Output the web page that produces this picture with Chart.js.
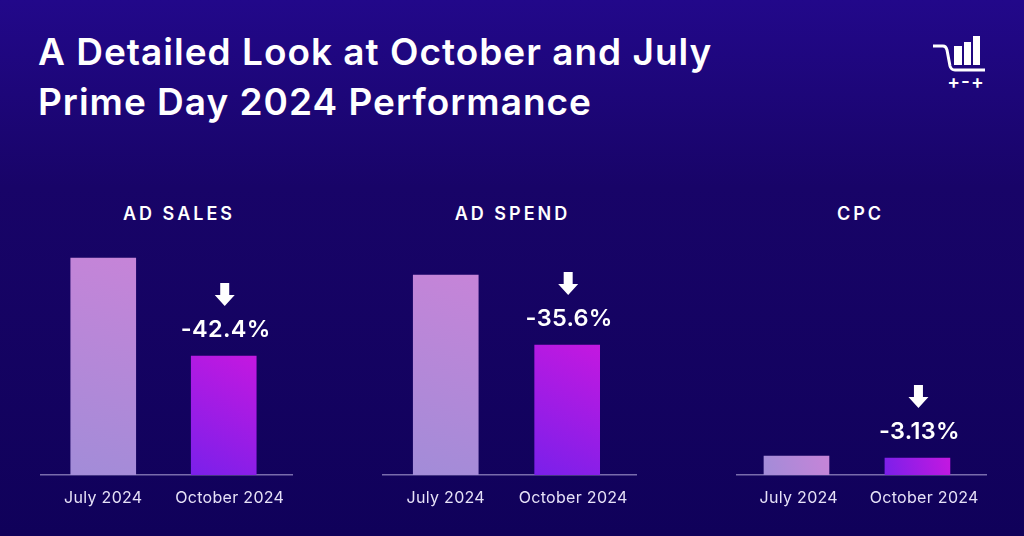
<!DOCTYPE html>
<html>
<head>
<meta charset="utf-8">
<title>Prime Day 2024</title>
<script src="https://cdn.jsdelivr.net/npm/chart.js@4"></script>
<style>
  html, body { margin: 0; padding: 0; }
  body {
    position: relative; width: 1024px; height: 536px; overflow: hidden;
    background: linear-gradient(180deg, #22088a 0%, #180468 35%, #10015a 100%);
    font-family: Inter, sans-serif; color: #fff;
  }
  h1 {
    position: absolute; left: 38px; top: 27px; margin: 0;
    font-size: 37px; line-height: 50px; font-weight: 600; letter-spacing: 1px;
  }
  .panel-title {
    position: absolute; top: 203px; width: 253px; text-align: center;
    font-size: 18px; line-height: 22px; font-weight: 600; letter-spacing: 3px;
  }
  canvas { position: absolute; top: 235px; }
  svg { position: absolute; left: 932px; top: 34px; }
</style>
</head>
<body>
<h1>A Detailed Look at October and July<br>Prime Day 2024 Performance</h1>

<svg width="56" height="56" viewBox="0 0 56 56" fill="none">
  <path d="M1 12 H11 Q14 12 15 16 L18 32 Q19 36 23 36 H53" stroke="#fff" stroke-width="3"/>
  <path d="M22 12 h8 v19 h-8z M32 8 h7 v23 h-7z M41 2 h7 v29 h-7z" fill="#fff"/>
  <text x="34" y="54" text-anchor="middle" fill="#fff" font-family="Inter" font-size="19" font-weight="600" letter-spacing="1">+-+</text>
</svg>

<script>
// Month categories shared by all three panels
const months = ["July 2024", "October 2024"];

// Bar heights (relative units, no axis in the original)
const adSales = [217, 119];
const adSpend = [200, 130];
const cpc = [19, 17];

const adSalesChange = "-42.4%";
const adSpendChange = "-35.6%";
const cpcChange = "-3.13%";

const panels = [
  { title: "AD SALES", values: adSales, change: adSalesChange, left: 40, width: 253, titleCenter: 177.5, xMin: 0.475, xMax: 2.575 },
  { title: "AD SPEND", values: adSpend, change: adSpendChange, left: 382, width: 255, titleCenter: 511, xMin: 0.475, xMax: 2.575 },
  { title: "CPC", values: cpc, change: cpcChange, left: 736, width: 251, titleCenter: 859, xMin: 0.5, xMax: 2.575 },
];

const fontFamily = "Inter, sans-serif";
const barColors = [
  ["#a28cd8", "#c684d8"], // July, bottom-left to top-right
  ["#7a20ea", "#c418e0"], // October
];
const barWidth = 65;

function barGradient(context) {
  const { chart, dataIndex, parsed } = context;
  if (!chart.chartArea || !parsed) return barColors[dataIndex][1];
  const x = chart.scales.x.getPixelForValue(parsed.x);
  const top = chart.scales.y.getPixelForValue(parsed.y);
  const bottom = chart.scales.y.getPixelForValue(0);
  const g = chart.ctx.createLinearGradient(x - barWidth / 2, bottom, x + barWidth / 2, top);
  g.addColorStop(0, barColors[dataIndex][0]);
  g.addColorStop(1, barColors[dataIndex][1]);
  return g;
}

// Arrow and percentage above the October bar
const changeLabel = {
  id: "changeLabel",
  beforeDraw(chart) {
    chart.ctx.letterSpacing = "0.3px";
  },
  afterDatasetsDraw(chart, args, opts) {
    const bar = chart.getDatasetMeta(0).data[1];
    const ctx = chart.ctx;
    const x = bar.x;
    const y = bar.y;
    ctx.save();
    ctx.fillStyle = "#fff";
    ctx.font = "600 23.5px " + fontFamily;
    ctx.textAlign = "center";
    ctx.textBaseline = "middle";
    ctx.fillText(opts.text, x + 2, y - 26);

    // down arrow
    const tip = y - 50;
    const ax = x + 1;
    ctx.beginPath();
    ctx.moveTo(ax - 4.5, tip - 23);
    ctx.lineTo(ax + 4.5, tip - 23);
    ctx.lineTo(ax + 4.5, tip - 11);
    ctx.lineTo(ax + 10, tip - 11);
    ctx.lineTo(ax, tip);
    ctx.lineTo(ax - 10, tip - 11);
    ctx.lineTo(ax - 4.5, tip - 11);
    ctx.closePath();
    ctx.fill();
    ctx.restore();
  },
};

panels.forEach((panel) => {
  const heading = document.createElement("div");
  heading.className = "panel-title";
  heading.textContent = panel.title;
  heading.style.left = panel.titleCenter - 125 + "px";
  document.body.appendChild(heading);

  const canvas = document.createElement("canvas");
  canvas.style.left = panel.left + "px";
  document.body.appendChild(canvas);
  canvas.width = panel.width;
  canvas.height = 285;

  new Chart(canvas.getContext("2d"), {
    type: "bar",
    data: {
      datasets: [{
        data: panel.values.map((v, i) => ({ x: i + 1, y: v })),
        backgroundColor: barGradient,
        barThickness: barWidth,
      }],
    },
    plugins: [changeLabel],
    options: {
      responsive: false,
      animation: false,
      layout: { padding: 0 },
      plugins: {
        legend: { display: false },
        tooltip: { enabled: false },
        changeLabel: { text: panel.change },
      },
      scales: {
        x: { type: "linear", display: false, offset: false, min: panel.xMin, max: panel.xMax },
        y: { display: false, min: 0, max: 240 },
        months: {
          type: "category",
          axis: "x",
          position: "bottom",
          labels: months,
          grid: { display: false },
          border: { color: "rgba(190, 180, 225, 0.6)", width: 1.5 },
          ticks: {
            color: "#e6e1f7",
            font: { family: fontFamily, size: 16 },
            padding: 6,
            maxRotation: 0,
          },
          afterFit(scale) {
            scale.height = 45;
            // labels stay inside the canvas, so no side padding is needed
            scale.paddingLeft = 0;
            scale.paddingRight = 0;
          },
        },
      },
    },
  });
});
</script>
</body>
</html>
